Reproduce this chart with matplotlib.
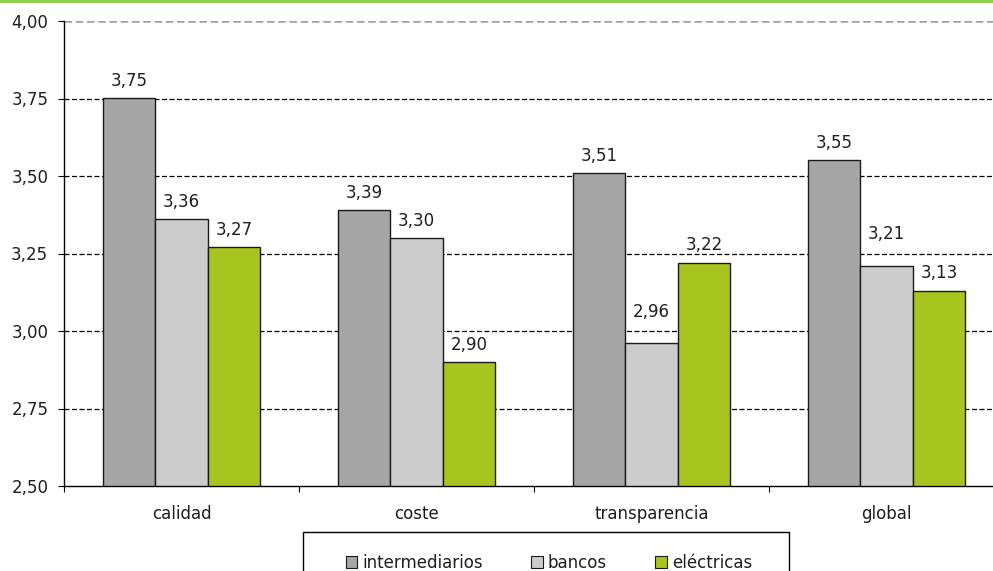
import matplotlib
matplotlib.use("Agg")
import matplotlib.pyplot as plt
import numpy as np
from matplotlib.patches import Patch, Rectangle

categories = ["calidad", "coste", "transparencia", "global"]
series_names = ["intermediarios", "bancos", "eléctricas"]
intermediarios = [3.75, 3.39, 3.51, 3.55]
bancos = [3.36, 3.30, 2.96, 3.21]
electricas = [3.27, 2.90, 3.22, 3.13]
y_ticks = [2.50, 2.75, 3.00, 3.25, 3.50, 3.75, 4.00]

colors = ["#A6A6A6", "#CCCCCC", "#A8C51F"]
# vertical gap (points) between bar top and its value label
label_gap = [
    [12.5, 12.5, 12.5, 12.5],
    [12.5, 12.5, 22.5, 23.0],
    [12.5, 12.5, 12.5, 12.5],
]

plt.rcParams["font.family"] = ["DejaVu Sans"]
FS = 12
TXT = "#1e1e1e"

fig = plt.figure(figsize=(9.93, 5.71), dpi=100)
# plot area runs a little past the right edge of the canvas
ax = fig.add_axes([64 / 993, 1 - 486 / 571, 940 / 993, (486 - 21) / 571])

# green rule along the top edge
fig.add_artist(plt.Line2D([0, 1], [0.998, 0.998], color="#92D050", lw=2.2,
                          transform=fig.transFigure))

x = np.arange(len(categories))
w = 0.224
values = [intermediarios, bancos, electricas]
for i, (vals, c) in enumerate(zip(values, colors)):
    pos = x + (i - 1) * w
    ax.bar(pos, [v - 2.5 for v in vals], bottom=2.5, width=w, color=c,
           edgecolor="#1a1a1a", linewidth=1.0, zorder=3)
    for j, (p, v) in enumerate(zip(pos, vals)):
        ax.annotate(f"{v:.2f}".replace(".", ","), xy=(p, v),
                    xytext=(0, label_gap[i][j]), textcoords="offset points",
                    ha="center", va="center", fontsize=FS, color=TXT,
                    zorder=4)

ax.set_xlim(-0.5, len(categories) - 0.5)
ax.set_ylim(2.5, 4.0)
ax.set_yticks(y_ticks)
ax.set_yticklabels([f"{t:.2f}".replace(".", ",") for t in y_ticks],
                   fontsize=FS, color=TXT)
for t in y_ticks[1:-1]:
    ax.axhline(t, color="black", lw=0.9, ls=(0, (4, 2)), zorder=1)
ax.axhline(4.0, color="#A0A0A0", lw=1.8, ls=(0, (3, 1.5)), zorder=1)

ax.set_xticks(np.arange(-0.5, len(categories)))
ax.set_xticklabels([])
ax.set_xticks(x, minor=True)
ax.set_xticklabels(categories, minor=True, fontsize=FS, color=TXT)
ax.tick_params(axis="x", which="minor", length=0, pad=14)
ax.tick_params(axis="x", which="major", length=4.3, direction="out")
ax.tick_params(axis="y", length=4.3, direction="out", pad=7)

for s in ["top", "right"]:
    ax.spines[s].set_visible(False)
ax.spines["left"].set_linewidth(1.0)
ax.spines["bottom"].set_linewidth(1.0)

# legend box, open at the bottom edge of the canvas
fig.add_artist(Rectangle((303 / 993, -0.05), (789 - 303) / 993,
                         0.05 + 1 - 532 / 571, transform=fig.transFigure,
                         facecolor="white", edgecolor="black", lw=1.0))
handles = [Patch(facecolor=c, edgecolor="#1a1a1a", linewidth=0.8) for c in colors]
leg = fig.legend(handles, series_names, loc="center",
                 bbox_to_anchor=(549 / 993, 1 - 563 / 571), ncol=3,
                 frameon=False, fontsize=FS, handlelength=0.7,
                 handleheight=0.7, handletextpad=0.3, columnspacing=2.9,
                 borderpad=0, borderaxespad=0)
for t in leg.get_texts():
    t.set_color(TXT)

fig.savefig("out.png", dpi=100)
